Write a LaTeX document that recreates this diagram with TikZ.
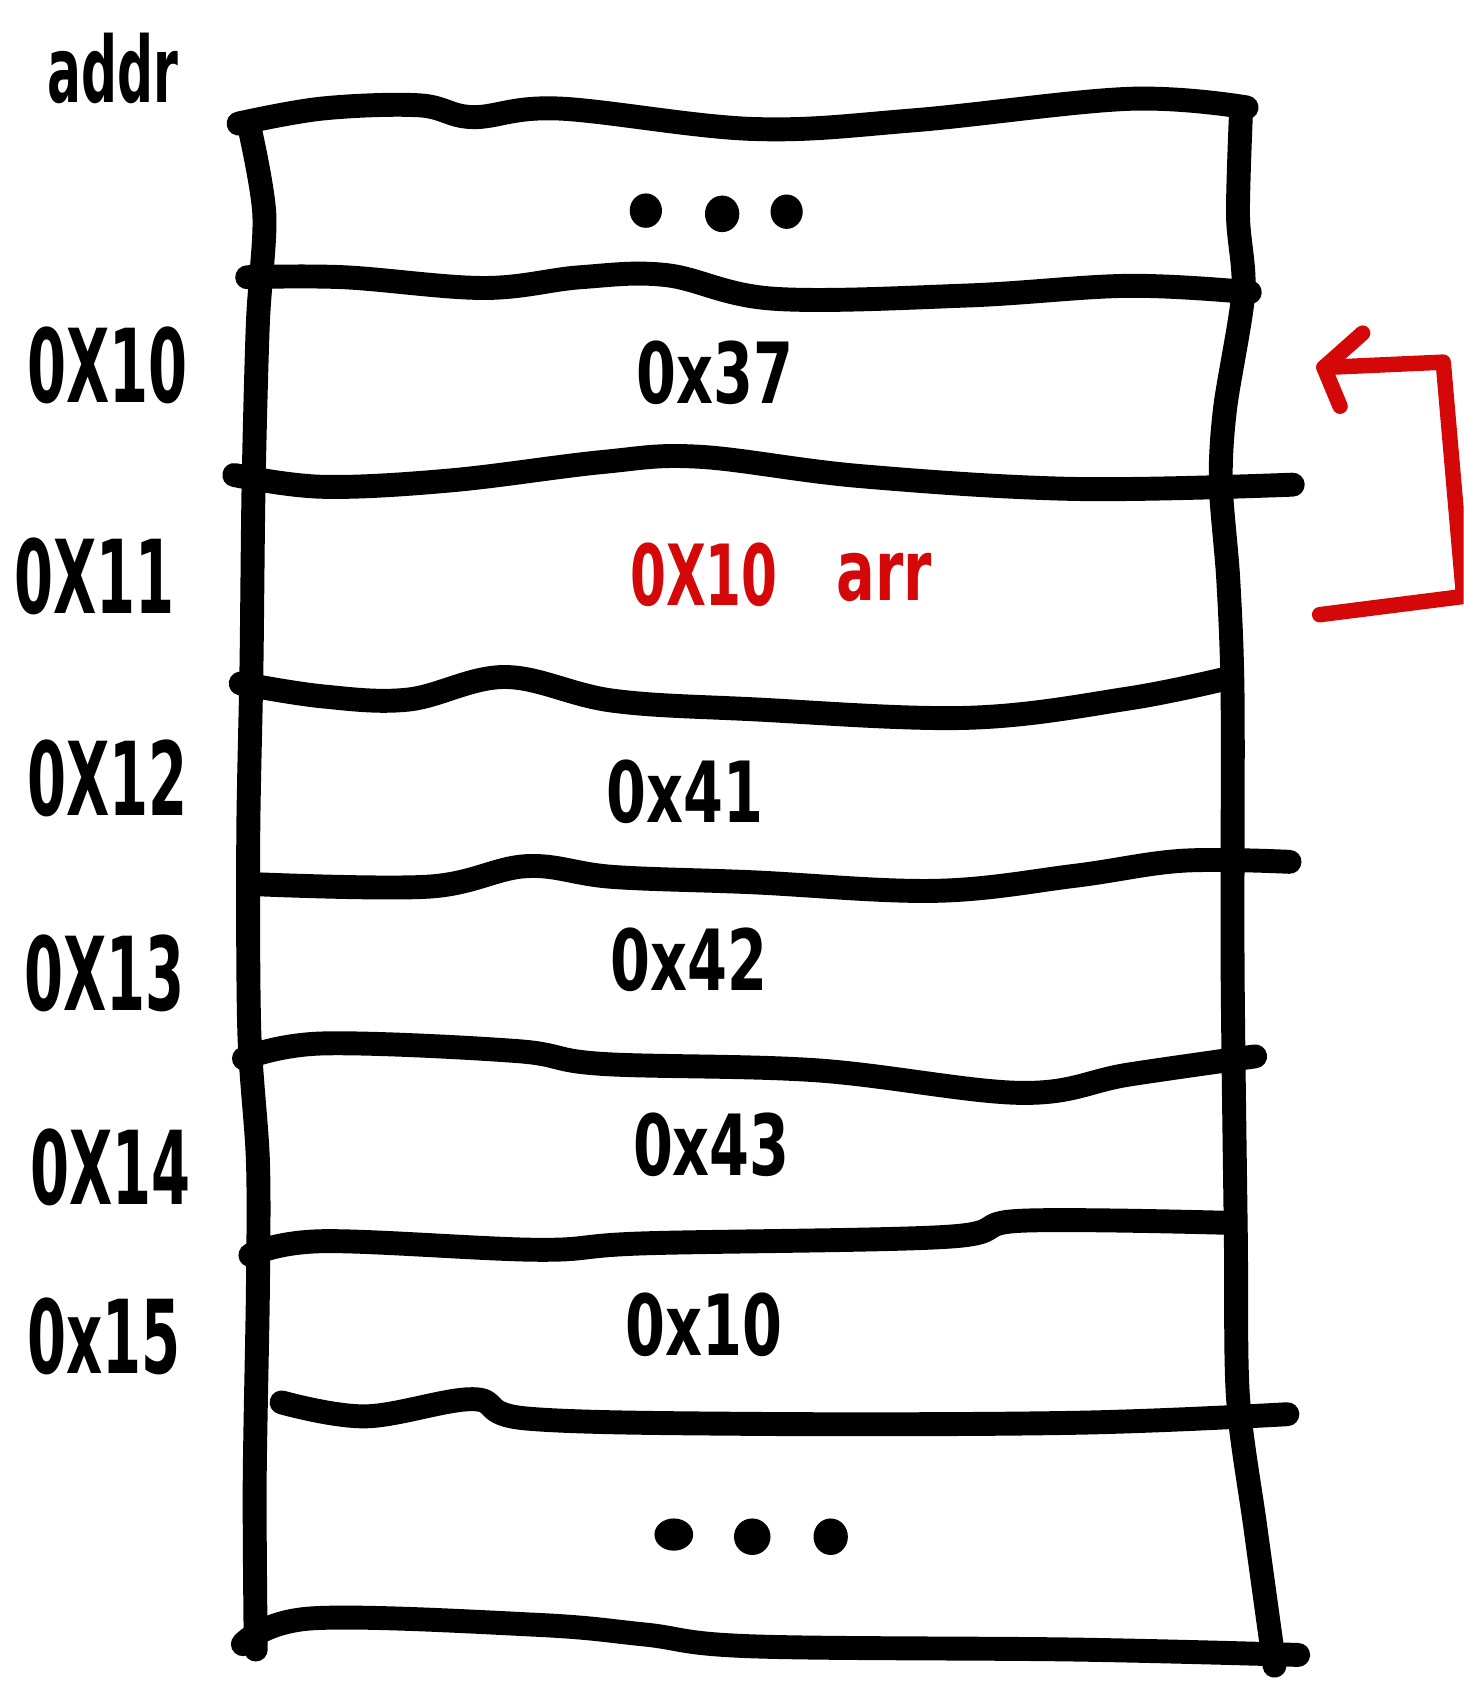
\documentclass[tikz,border=0pt]{standalone}
\usepackage{fontspec}
\setmainfont{DejaVu Sans}
\definecolor{memred}{RGB}{212,8,8}
\begin{document}
\begin{tikzpicture}[x=0.010749cm, y=-0.010749cm,
  wall/.style={line width=6.8pt, line cap=round, line join=round},
  ptr/.style={draw=memred, line width=4.4pt, line cap=round, line join=round},
  addr/.style={font=\bfseries\fontsize{29}{30}\selectfont, xscale=0.55},
  val/.style={font=\bfseries\fontsize{24}{26}\selectfont, xscale=0.68}]
\useasboundingbox (0,0) rectangle (1362,1568);
\clip (0,0) rectangle (1362,1568);
% sides of the memory column
\draw[wall] plot[smooth, tension=0.5] coordinates {(232,118) (246,200) (240,300) (236,450) (234,620) (231,780) (232,960) (240,1080) (240,1200) (237,1380) (238,1535)};
\draw[wall] plot[smooth, tension=0.5] coordinates {(1155,100) (1152,200) (1157,272) (1140,380) (1136,450) (1143,540) (1147,650) (1147,900) (1150,1150) (1152,1300) (1168,1420) (1186,1550)};
% cell borders
\draw[wall] plot[smooth, tension=0.6] coordinates {(222,115) (300,101) (390,98) (440,109) (520,101) (700,120) (850,112) (1050,92) (1160,100)};
\draw[wall] plot[smooth, tension=0.6] coordinates {(230,258) (320,258) (450,268) (540,258) (620,256) (720,278) (900,275) (1050,266) (1163,272)};
\draw[wall] plot[smooth, tension=0.6] coordinates {(218,442) (300,453) (420,447) (560,430) (650,425) (800,443) (1000,455) (1203,451)};
\draw[wall] plot[smooth, tension=0.6] coordinates {(224,636) (300,648) (380,651) (470,630) (570,652) (700,660) (900,668) (1050,650) (1143,631)};
\draw[wall] plot[smooth, tension=0.6] coordinates {(243,823) (400,825) (490,806) (570,816) (700,821) (870,829) (1000,815) (1100,801) (1200,802)};
\draw[wall] plot[smooth, tension=0.6] coordinates {(227,985) (300,971) (480,978) (560,990) (760,996) (950,1017) (1050,1000) (1168,983)};
\draw[wall] plot[smooth, tension=0.6] coordinates {(233,1168) (300,1155) (500,1163) (600,1157) (880,1151) (950,1136) (1146,1138)};
\draw[wall] plot[smooth, tension=0.6] coordinates {(262,1305) (340,1318) (440,1302) (490,1320) (700,1325) (1000,1324) (1198,1316)};
\draw[wall] plot[smooth, tension=0.6] coordinates {(226,1530) (290,1506) (500,1512) (600,1521) (700,1532) (1000,1535) (1208,1540)};
% addresses
\node[addr] (addrlbl) at (105,64) {\fontsize{26}{28}\selectfont addr};
\node[addr] (a10) at (100,340) {0X10};
\node[addr] (a11) at (88,536) {0X11};
\node[addr] (a12) at (100,724) {0X12};
\node[addr] (a13) at (97,906) {0X13};
\node[addr] (a14) at (103,1086) {0X14};
\node[addr] (a15) at (97,1244) {0x15};
% contents
\node[val] (v10) at (665,347) {0x37};
\node[val, text=memred, xscale=0.9] (v11) at (655,535) {0X10};
\node[val, text=memred] (v11name) at (823,537) {arr};
\node[val] (v12) at (637,737) {0x41};
\node[val] (v13) at (641,893) {0x42};
\node[val] (v14) at (662,1065) {0x43};
\node[val] (v15) at (655,1233) {0x10};
\fill (601,196) ellipse (15 and 16);
\fill (672,199) ellipse (16 and 17);
\fill (732,197) ellipse (15 and 16);
\fill (627,1428) ellipse (18 and 15);
\fill (700,1430) ellipse (17 and 17);
\fill (773,1430) ellipse (16 and 17);
% pointer back to 0x10
\coordinate (ptrfrom) at (1228,572);
\coordinate (ptrlow) at (1362,555);
\coordinate (ptrhigh) at (1343,337);
\coordinate (ptrto) at (1232,342);
\draw[ptr] (ptrfrom) -- (ptrlow) -- (ptrhigh) -- (ptrto);
\draw[ptr] (1268,310) -- (ptrto) -- (1247,378);
\end{tikzpicture}
\end{document}
